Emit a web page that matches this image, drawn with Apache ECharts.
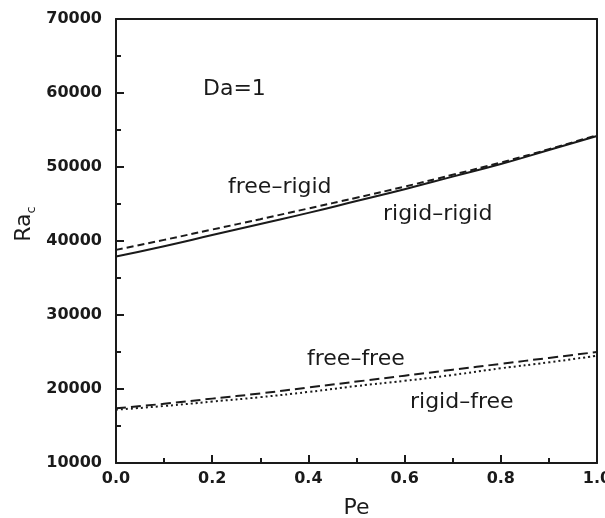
<!DOCTYPE html>
<html>
<head>
<meta charset="utf-8">
<script src="https://cdn.jsdelivr.net/npm/echarts@6/dist/echarts.min.js"></script>
<style>
  html, body { margin: 0; padding: 0; background: #fff; }
  #main { width: 605px; height: 518px; }
</style>
</head>
<body>
<div id="main"></div>
<script>
// Pe values
var pe = [0.0, 0.1, 0.2, 0.3, 0.4, 0.5, 0.6, 0.7, 0.8, 0.9, 1.0];
// critical Rayleigh numbers
var rigidRigid = [37900, 39300, 40800, 42300, 43800, 45400, 47000, 48700, 50400, 52300, 54200];
var freeRigid  = [38800, 40150, 41550, 42950, 44400, 45850, 47350, 48950, 50600, 52400, 54300];
var freeFree   = [17400, 18000, 18700, 19400, 20200, 21000, 21800, 22600, 23400, 24200, 25000];
var rigidFree  = [17200, 17700, 18300, 18900, 19600, 20400, 21100, 21900, 22800, 23600, 24500];

function pairs(ys) {
    var out = [];
    for (var i = 0; i < pe.length; i++) {
        out.push([pe[i], ys[i]]);
    }
    return out;
}

var ink = '#1a1a1a';
var labelFont = 'DejaVu Sans';

function lineSeries(name, ys, type) {
    return {
        name: name,
        type: 'line',
        smooth: true,
        symbol: 'none',
        data: pairs(ys),
        lineStyle: { color: ink, width: 2, type: type },
        z: 3
    };
}

function note(text, x, y) {
    return {
        type: 'text',
        left: x,
        top: y,
        style: { text: text, font: '22px "DejaVu Sans"', fill: ink }
    };
}

var mychart = echarts.init(document.getElementById('main'));
var option = {
    animation: false,
    grid: { left: 116, right: 8, top: 19, bottom: 55, outerBoundsMode: 'none' },
    xAxis: [{
        type: 'value',
        min: 0, max: 1, interval: 0.2,
        name: 'Pe',
        nameLocation: 'middle',
        nameGap: 34,
        nameTextStyle: { fontFamily: labelFont, fontSize: 22, color: ink },
        axisLine: { lineStyle: { color: ink, width: 2 } },
        axisTick: { inside: true, length: 8, lineStyle: { color: ink, width: 2 } },
        minorTick: { show: true, splitNumber: 2, length: 5, lineStyle: { color: ink, width: 2 } },
        axisLabel: {
            fontFamily: labelFont, fontSize: 16, fontWeight: 'bold', color: ink, margin: 8,
            formatter: function (v) { return v.toFixed(1); }
        },
        splitLine: { show: false }
    }, {
        type: 'value', position: 'top', min: 0, max: 1,
        axisLine: { show: true, onZero: false, lineStyle: { color: ink, width: 2 } },
        axisTick: { show: false }, axisLabel: { show: false }, splitLine: { show: false }
    }],
    yAxis: [{
        type: 'value',
        min: 10000, max: 70000, interval: 10000,
        axisLine: { lineStyle: { color: ink, width: 2 } },
        axisTick: { inside: true, length: 8, lineStyle: { color: ink, width: 2 } },
        minorTick: { show: true, splitNumber: 2, length: 5, lineStyle: { color: ink, width: 2 } },
        axisLabel: {
            fontFamily: labelFont, fontSize: 16, fontWeight: 'bold', color: ink, margin: 14,
            formatter: function (v) { return String(v); }
        },
        splitLine: { show: false }
    }, {
        type: 'value', position: 'right', min: 10000, max: 70000,
        axisLine: { show: true, onZero: false, lineStyle: { color: ink, width: 2 } },
        axisTick: { show: false }, axisLabel: { show: false }, splitLine: { show: false }
    }],
    graphic: [
        {
            // y axis name Ra with subscript c
            type: 'text',
            x: 24,
            y: 224,
            rotation: Math.PI / 2,
            style: {
                text: '{a|Ra}{b|c}',
                align: 'center',
                verticalAlign: 'middle',
                fill: ink,
                rich: {
                    a: { fontFamily: labelFont, fontSize: 22, fill: ink, lineHeight: 28 },
                    b: { fontFamily: labelFont, fontSize: 13, fill: ink, lineHeight: 28, verticalAlign: 'bottom' }
                }
            }
        },
        note('Da=1', 203, 78),
        note('free\u2013rigid', 228, 176),
        note('rigid\u2013rigid', 383, 203),
        note('free\u2013free', 307, 348),
        note('rigid\u2013free', 410, 391)
    ],
    series: [
        lineSeries('rigid-rigid', rigidRigid, 'solid'),
        lineSeries('free-rigid', freeRigid, [7, 4]),
        lineSeries('free-free', freeFree, [10, 5]),
        lineSeries('rigid-free', rigidFree, [2, 3])
    ]
};
mychart.setOption(option);
</script>
</body>
</html>
